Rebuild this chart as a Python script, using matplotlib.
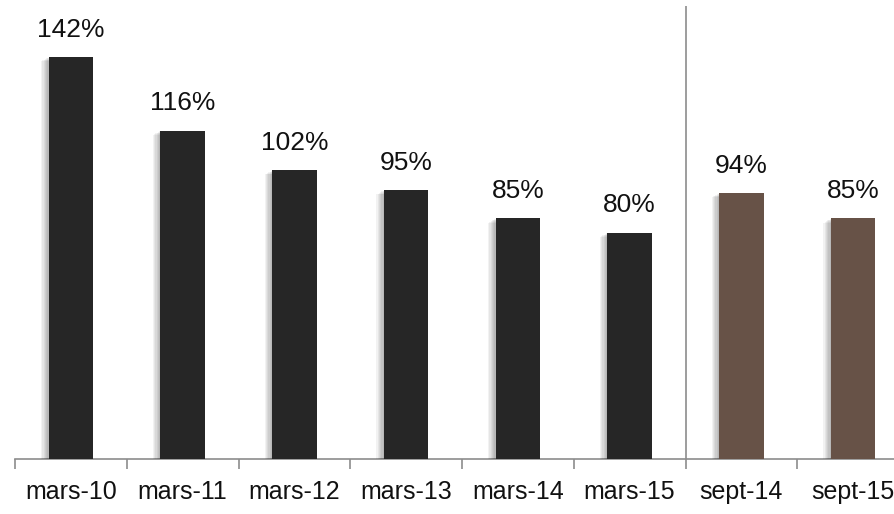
import matplotlib
matplotlib.use("Agg")
import matplotlib.pyplot as plt
import matplotlib.patheffects as pe
from matplotlib import font_manager

categories = ["mars-10", "mars-11", "mars-12", "mars-13", "mars-14", "mars-15", "sept-14", "sept-15"]
values = [142, 116, 102, 95, 85, 80, 94, 85]
labels = ["142%", "116%", "102%", "95%", "85%", "80%", "94%", "85%"]
colors = ["#262626"] * 6 + ["#675247"] * 2

names = {f.name for f in font_manager.fontManager.ttflist}
family = ["Liberation Sans Narrow", "Liberation Sans", "DejaVu Sans"]
family = [f for f in family if f in names] or ["DejaVu Sans"]
plt.rcParams["font.family"] = family

fig = plt.figure(figsize=(8.94, 5.14), dpi=100)
ax = fig.add_axes([15 / 894, 55 / 514, 894 / 894, 453 / 514])

# soft shadow: stacked translucent offsets to the lower left
shadow = []
for k in range(1, 7):
    shadow.append(pe.SimplePatchShadow(offset=(-k * 0.9, -k * 0.5), shadow_rgbFace="black", alpha=0.05))
shadow.append(pe.Normal())

x = list(range(len(categories)))
bars = ax.bar(x, values, width=0.40, color=colors, zorder=3)
for b in bars:
    b.set_path_effects(shadow)

for xi, v, lab in zip(x, values, labels):
    ax.annotate(lab, (xi, v), xytext=(0, 11), textcoords="offset points",
                ha="center", va="bottom", fontsize=19, color="#111111")

ax.set_xlim(-0.5, len(categories) - 0.5)
ax.set_ylim(0, 160)
ax.axvline(5.5, color="#8c8c8c", lw=1.2, zorder=2)

for s in ["top", "right", "left"]:
    ax.spines[s].set_visible(False)
ax.spines["bottom"].set_color("#8c8c8c")
ax.spines["bottom"].set_linewidth(1.2)
ax.set_yticks([])

ax.set_xticks([i - 0.5 for i in range(len(categories) + 1)])
ax.set_xticklabels([])
ax.set_xticks(x, minor=True)
ax.set_xticklabels(categories, minor=True, fontsize=18, color="#111111")
ax.tick_params(axis="x", which="major", length=7, width=1.2, color="#8c8c8c")
ax.tick_params(axis="x", which="minor", length=0, pad=15)

fig.savefig("out.png", dpi=100)
